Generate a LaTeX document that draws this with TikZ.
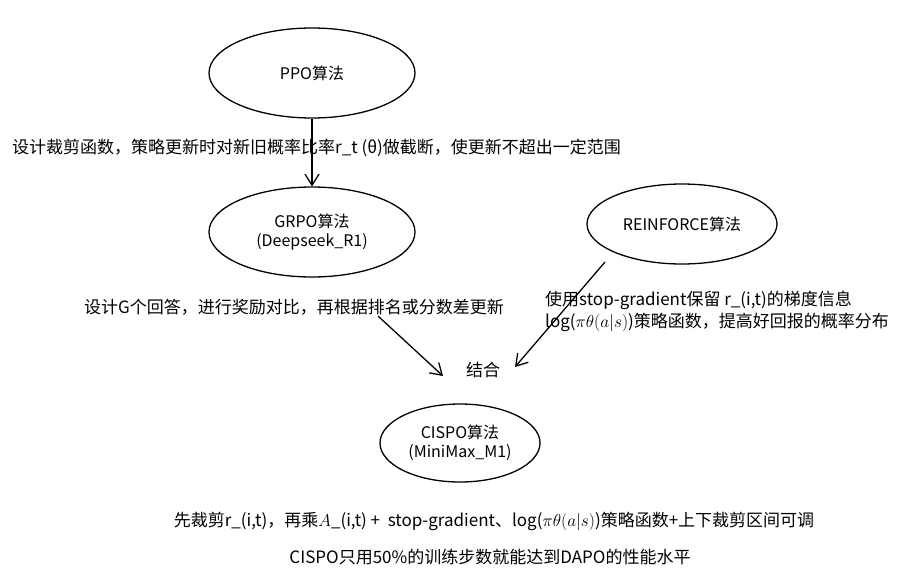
\documentclass[tikz,border=0pt]{standalone}
\usepackage{fontspec}
\setmainfont{Noto Sans CJK SC}
\usetikzlibrary{shapes.geometric,arrows.meta}
\begin{document}
\begin{tikzpicture}[x=1pt,y=-1pt,
  ell/.style={draw,ellipse,line width=1.3pt,inner sep=0pt,align=center,font=\fontsize{16}{19}\selectfont},
  txt/.style={font=\fontsize{17}{22}\selectfont,inner sep=0pt},
  arr/.style={-{Straight Barb[length=11pt,width=14pt]},line width=1.3pt}]
\useasboundingbox (0,0) rectangle (900,582);
\node[ell,minimum width=206,minimum height=90] (ppo) at (312,73) {PPO算法};
\node[ell,minimum width=206,minimum height=90] (grpo) at (312,232) {GRPO算法\\(Deepseek\_R1)};
\node[ell,minimum width=190,minimum height=80] (rein) at (682,224) {REINFORCE算法};
\node[ell,minimum width=160,minimum height=78] (cispo) at (460,443) {CISPO算法\\(MiniMax\_M1)};
\node[txt,anchor=west] (t1) at (12,148) {设计裁剪函数，策略更新时对新旧概率比率r\_t (θ)做截断，使更新不超出一定范围};
\node[txt,anchor=west] (t2) at (84,307) {设计G个回答，进行奖励对比，再根据排名或分数差更新};
\node[txt,anchor=west,align=left] (t3) at (545,311) {使用stop-gradient保留 r\_(i,t)的梯度信息\\log($\pi\theta(a|s)$)策略函数，提高好回报的概率分布};
\node[txt] (t4) at (483,370) {结合};
\node[txt] (t5) at (494,521) {先裁剪r\_(i,t)，再乘$A$\_(i,t) +\ \ stop-gradient、log($\pi\theta(a|s)$)策略函数+上下裁剪区间可调};
\node[txt] (t6) at (490,557) {CISPO只用50\%的训练步数就能达到DAPO的性能水平};
\coordinate (a1) at (378,316);
\coordinate (a2) at (443,376);
\coordinate (b1) at (605,262);
\coordinate (b2) at (515,367);
\draw[arr] (ppo.south) -- (grpo.north);
\draw[arr] (a1) -- (a2);
\draw[arr] (b1) -- (b2);
\end{tikzpicture}
\end{document}
